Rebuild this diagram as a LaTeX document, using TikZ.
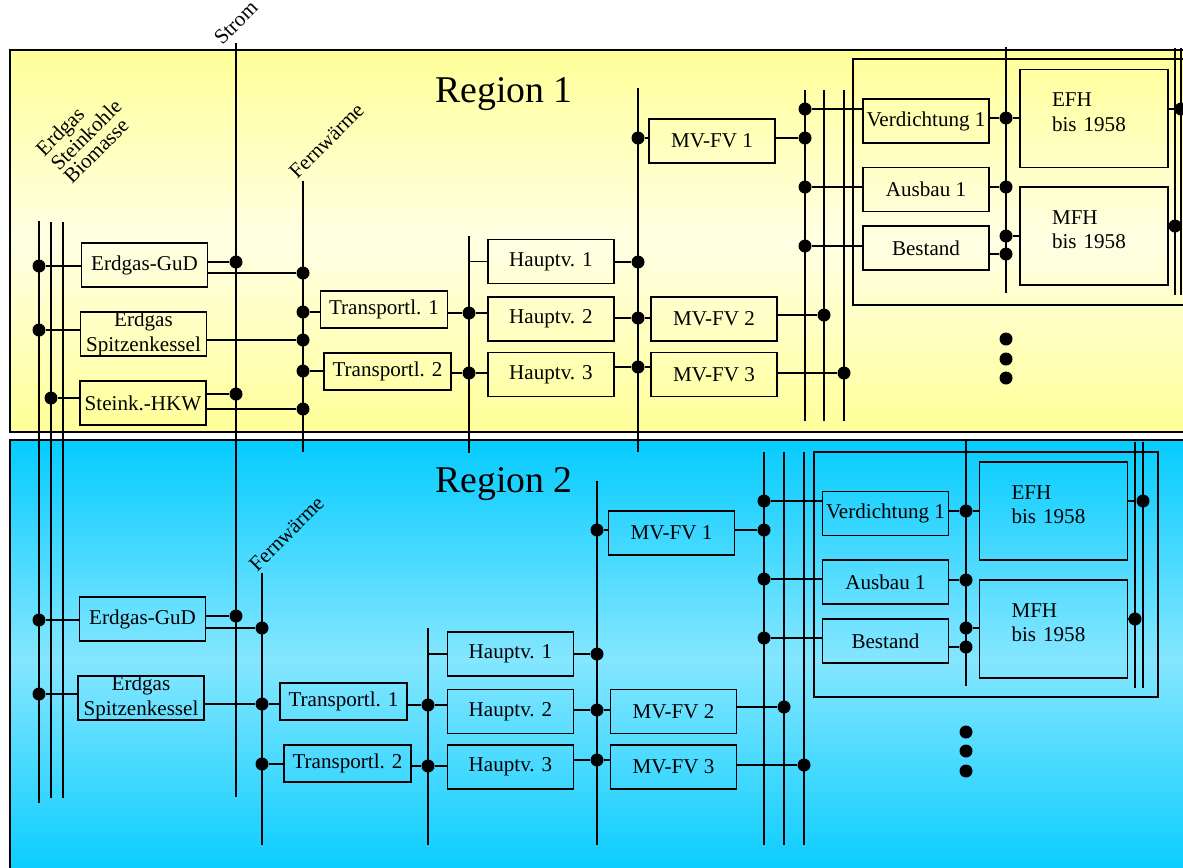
\documentclass[tikz,border=0pt]{standalone}
\usepackage{fontspec}
\setmainfont{Liberation Serif}
\usetikzlibrary{calc}
\definecolor{rgelb}{HTML}{FFFF99}
\definecolor{rgelbhell}{HTML}{FFFFE4}
\definecolor{rcyan}{HTML}{05CCFF}
\definecolor{rcyanhell}{HTML}{85E6FF}
\tikzset{
  rkasten/.style={draw, minimum width=2.52cm, minimum height=0.88cm, inner sep=0pt,
                  align=center, font=\fontsize{12}{14}\selectfont},
  rtransp/.style={rkasten, minimum width=2.54cm, minimum height=0.74cm},
  rhaus/.style={rkasten, minimum width=2.96cm, minimum height=1.96cm, text width=1.68cm,
                inner xsep=0.64cm, align=left},
  rpunkt/.style={circle, fill, inner sep=0pt, minimum size=2.6mm},
  rtitel/.style={font=\fontsize{21.5}{26}\selectfont},
  rschraeg/.style={rotate=45, inner sep=0pt, font=\fontsize{12}{10.5}\selectfont},
}
\newcommand{\rtief}{\rule[-0.26cm]{0pt}{0.26cm}}

\begin{document}
\begin{tikzpicture}[x=0.02cm, y=-0.02cm, line width=0.7pt]
    \path[use as bounding box] (0,0) rectangle (1183,867);
    \clip (0,0) rectangle (1183,867);
    % Regionen
    \shadedraw[top color=rgelb, bottom color=rgelb, middle color=rgelbhell] (10,50) rectangle (1200,432);
    \shadedraw[top color=rcyan, bottom color=rcyan, middle color=rcyanhell] (10,440) rectangle (1200,880);
    \node[rtitel] (reg1) at (504,94) {Region 1};
    \node[rtitel] (reg2) at (504,484) {Region 2};
    % Gebaeudegruppen
    \draw (853,59) rectangle (1200,305);
    \draw (814,452) rectangle (1158,697);
    % Leitungen
    \foreach \n/\x/\a/\b in {ein1/39/221/803, ein2/51/222/798, ein3/63/222/798, strom/236/43/797,
        fw1/303/181/452, hv1/469/236/453, mv1/638/88/452, vt1a/805/90/421, vt1b/824/90/421,
        vt1c/844/90/421, gb1/1006/47/293, rt1a/1175/48/295, rt1b/1181/48/295,
        fw2/262/573/845, hv2/428/628/845, mv2/597/481/845, vt2a/764/452/845, vt2b/784/452/845,
        vt2c/804/452/845, gb2/966/439/686, rt2a/1135/442/688, rt2b/1143/442/688} {
        \coordinate (l\n) at (\x,\a);
        \coordinate (l\n-u) at (\x,\b);
        \draw (l\n) -- (l\n-u);
    }
    \node[rschraeg, align=left] (brennst) at (85,134) {Erdgas\\Steinkohle\\Biomasse};
    \node[rschraeg, anchor=base west] (tstrom) at (222,46) {Strom};
    \node[rschraeg, anchor=base west] (tfw1) at (297,180) {Fernwärme};
    \node[rschraeg, anchor=base west] (tfw2) at (257,573) {Fernwärme};
    % Region 1: Kaesten
    \node[rkasten] (gud1) at (144.5,265) {Erdgas-GuD};
    \node[rkasten] (spk1) at (143.5,334) {Erdgas\\Spitzenkessel};
    \node[rkasten] (hkw1) at (143,403) {Steink.-HKW};
    \node[rtransp] (tr11) at (384,309.5) {Transportl. 1};
    \node[rtransp] (tr12) at (387.5,371.5) {Transportl. 2};
    \node[rkasten] (hv11) at (551,261.5) {Hauptv. 1};
    \node[rkasten] (hv12) at (551,319) {Hauptv. 2};
    \node[rkasten] (hv13) at (551,374.5) {Hauptv. 3};
    \node[rkasten] (mv11) at (712,141) {MV-FV 1};
    \node[rkasten] (mv12) at (714,319) {MV-FV 2};
    \node[rkasten] (mv13) at (714,374.5) {MV-FV 3};
    \node[rkasten] (vd1) at (926,121) {Verdichtung 1};
    \node[rkasten] (ab1) at (926,189.5) {Ausbau 1};
    \node[rkasten] (bs1) at (926,248) {Bestand};
    \node[rhaus] (efh1) at (1094,118.5) {EFH\\bis 1958\rtief};
    \node[rhaus] (mfh1) at (1094,236) {MFH\\bis 1958\rtief};
    % Region 2: Kaesten
    \node[rkasten] (gud2) at (142.5,619) {Erdgas-GuD};
    \node[rkasten] (spk2) at (141,698) {Erdgas\\Spitzenkessel};
    \node[rtransp] (tr21) at (343.5,701.5) {Transportl. 1};
    \node[rtransp] (tr22) at (347.5,763.5) {Transportl. 2};
    \node[rkasten] (hv21) at (510.5,654) {Hauptv. 1};
    \node[rkasten] (hv22) at (510.5,711.5) {Hauptv. 2};
    \node[rkasten] (hv23) at (510.5,767) {Hauptv. 3};
    \node[rkasten] (mv21) at (671.5,533) {MV-FV 1};
    \node[rkasten] (mv22) at (673.5,711.5) {MV-FV 2};
    \node[rkasten] (mv23) at (673.5,767) {MV-FV 3};
    \node[rkasten] (vd2) at (885.5,513.5) {Verdichtung 1};
    \node[rkasten] (ab2) at (885.5,582) {Ausbau 1};
    \node[rkasten] (bs2) at (885.5,641) {Bestand};
    \node[rhaus] (efh2) at (1053.5,511) {EFH\\bis 1958\rtief};
    \node[rhaus] (mfh2) at (1053.5,629) {MFH\\bis 1958\rtief};
    % Region 1: Knoten
    \node[rpunkt] (pgud1e) at (39,266) {};
    \node[rpunkt] (pspk1e) at (39,330) {};
    \node[rpunkt] (phkw1e) at (51,398) {};
    \node[rpunkt] (pgud1s) at (236,262) {};
    \node[rpunkt] (phkw1s) at (236,394) {};
    \node[rpunkt] (pgud1f) at (303,273) {};
    \node[rpunkt] (ptr11f) at (303,312) {};
    \node[rpunkt] (pspk1f) at (303,340) {};
    \node[rpunkt] (ptr12f) at (303,371) {};
    \node[rpunkt] (phkw1f) at (303,409) {};
    \node[rpunkt] (ptr11h) at (469,313) {};
    \node[rpunkt] (ptr12h) at (469,373) {};
    \node[rpunkt] (pmv11m) at (638,138) {};
    \node[rpunkt] (phv11m) at (638,262) {};
    \node[rpunkt] (phv12m) at (638,318) {};
    \node[rpunkt] (phv13m) at (638,367) {};
    \node[rpunkt] (pvd1v) at (805,109) {};
    \node[rpunkt] (pmv11v) at (805,138) {};
    \node[rpunkt] (pab1v) at (805,187) {};
    \node[rpunkt] (pbs1v) at (805,246) {};
    \node[rpunkt] (pmv12v) at (824,315) {};
    \node[rpunkt] (pmv13v) at (844,373) {};
    \node[rpunkt] (pvd1g) at (1006,118) {};
    \node[rpunkt] (pab1g) at (1006,187) {};
    \node[rpunkt] (pmfh1g) at (1006,236) {};
    \node[rpunkt] (pbs1g) at (1006,254) {};
    \node[rpunkt] (pefh1r) at (1181,109) {};
    \node[rpunkt] (pmfh1r) at (1175,226) {};
    \foreach \i/\y in {a/339, b/359, c/378}
        \node[rpunkt] (pweiter1\i) at (1006,\y) {};
    % Region 1: Verbindungen
    \draw (pgud1e) -- (pgud1e -| gud1.west);
    \draw (pspk1e) -- (pspk1e -| spk1.west);
    \draw (phkw1e) -- (phkw1e -| hkw1.west);
    \draw (pgud1s -| gud1.east) -- (pgud1s);
    \draw (pgud1f -| gud1.east) -- (pgud1f);
    \draw (pspk1f -| spk1.east) -- (pspk1f);
    \draw (phkw1s -| hkw1.east) -- (phkw1s);
    \draw (phkw1f -| hkw1.east) -- (phkw1f);
    \draw (ptr11f) -- (ptr11f -| tr11.west);
    \draw (ptr12f) -- (ptr12f -| tr12.west);
    \draw (ptr11h -| tr11.east) -- (ptr11h) -- (ptr11h -| hv12.west);
    \draw (ptr12h -| tr12.east) -- (ptr12h) -- (ptr12h -| hv13.west);
    \draw (lhv1 |- hv11.west) -- (hv11.west);
    \draw (pmv11m) -- (pmv11m -| mv11.west);
    \draw (phv11m -| hv11.east) -- (phv11m);
    \draw (phv12m -| hv12.east) -- (phv12m) -- (phv12m -| mv12.west);
    \draw (phv13m -| hv13.east) -- (phv13m) -- (phv13m -| mv13.west);
    \draw (pvd1v) -- (pvd1v -| vd1.west);
    \draw (pmv11v -| mv11.east) -- (pmv11v);
    \draw (pab1v) -- (pab1v -| ab1.west);
    \draw (pbs1v) -- (pbs1v -| bs1.west);
    \draw (pmv12v -| mv12.east) -- (pmv12v);
    \draw (pmv13v -| mv13.east) -- (pmv13v);
    \draw (pvd1g -| vd1.east) -- (pvd1g) -- (pvd1g -| efh1.west);
    \draw (pab1g -| ab1.east) -- (pab1g);
    \draw (pmfh1g) -- (pmfh1g -| mfh1.west);
    \draw (pbs1g -| bs1.east) -- (pbs1g);
    \draw (pefh1r -| efh1.east) -- (pefh1r);
    \draw (pmfh1r -| mfh1.east) -- (pmfh1r);
    % Region 2: Knoten
    \node[rpunkt] (pgud2e) at (39,620) {};
    \node[rpunkt] (pspk2e) at (39,694) {};
    \node[rpunkt] (pgud2s) at (236,616) {};
    \node[rpunkt] (pgud2f) at (262,628) {};
    \node[rpunkt] (pspk2f) at (262,704) {};
    \node[rpunkt] (ptr22f) at (262,764) {};
    \node[rpunkt] (ptr21h) at (428,705) {};
    \node[rpunkt] (ptr22h) at (428,766) {};
    \node[rpunkt] (pmv21m) at (597,530) {};
    \node[rpunkt] (phv21m) at (597,654) {};
    \node[rpunkt] (phv22m) at (597,710) {};
    \node[rpunkt] (phv23m) at (597,760) {};
    \node[rpunkt] (pvd2v) at (764,501) {};
    \node[rpunkt] (pmv21v) at (764,530) {};
    \node[rpunkt] (pab2v) at (764,579) {};
    \node[rpunkt] (pbs2v) at (764,638) {};
    \node[rpunkt] (pmv22v) at (784,707) {};
    \node[rpunkt] (pmv23v) at (804,765) {};
    \node[rpunkt] (pvd2g) at (966,511) {};
    \node[rpunkt] (pab2g) at (966,580) {};
    \node[rpunkt] (pmfh2g) at (966,628) {};
    \node[rpunkt] (pbs2g) at (966,647) {};
    \node[rpunkt] (pefh2r) at (1143,501) {};
    \node[rpunkt] (pmfh2r) at (1135,619) {};
    \foreach \i/\y in {a/732, b/751, c/771}
        \node[rpunkt] (pweiter2\i) at (966,\y) {};
    % Region 2: Verbindungen
    \draw (pgud2e) -- (pgud2e -| gud2.west);
    \draw (pspk2e) -- (pspk2e -| spk2.west);
    \draw (pgud2s -| gud2.east) -- (pgud2s);
    \draw (pgud2f -| gud2.east) -- (pgud2f);
    \draw (pspk2f -| spk2.east) -- (pspk2f) -- (pspk2f -| tr21.west);
    \draw (ptr22f) -- (ptr22f -| tr22.west);
    \draw (ptr21h -| tr21.east) -- (ptr21h) -- (ptr21h -| hv22.west);
    \draw (ptr22h -| tr22.east) -- (ptr22h) -- (ptr22h -| hv23.west);
    \draw (lhv2 |- hv21.west) -- (hv21.west);
    \draw (pmv21m) -- (pmv21m -| mv21.west);
    \draw (phv21m -| hv21.east) -- (phv21m);
    \draw (phv22m -| hv22.east) -- (phv22m) -- (phv22m -| mv22.west);
    \draw (phv23m -| hv23.east) -- (phv23m) -- (phv23m -| mv23.west);
    \draw (pvd2v) -- (pvd2v -| vd2.west);
    \draw (pmv21v -| mv21.east) -- (pmv21v);
    \draw (pab2v) -- (pab2v -| ab2.west);
    \draw (pbs2v) -- (pbs2v -| bs2.west);
    \draw (pmv22v -| mv22.east) -- (pmv22v);
    \draw (pmv23v -| mv23.east) -- (pmv23v);
    \draw (pvd2g -| vd2.east) -- (pvd2g) -- (pvd2g -| efh2.west);
    \draw (pab2g -| ab2.east) -- (pab2g);
    \draw (pmfh2g) -- (pmfh2g -| mfh2.west);
    \draw (pbs2g -| bs2.east) -- (pbs2g);
    \draw (pefh2r -| efh2.east) -- (pefh2r);
    \draw (pmfh2r -| mfh2.east) -- (pmfh2r);
\end{tikzpicture}
\end{document}
